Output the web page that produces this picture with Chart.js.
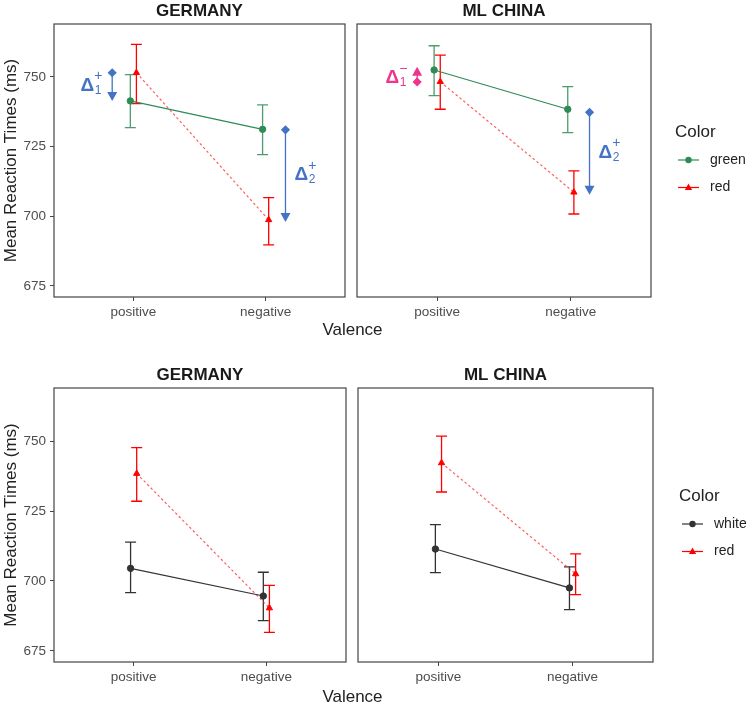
<!DOCTYPE html>
<html>
<head>
<meta charset="utf-8">
<script src="https://cdn.jsdelivr.net/npm/chart.js@4/dist/chart.umd.min.js"></script>
<style>
    html, body { margin: 0; padding: 0; background: #fff; overflow: hidden; }
    body { width: 749px; height: 705px; position: relative; font-family: 'Liberation Sans', Arial, sans-serif; }
    canvas { position: absolute; }
    .x-title { position: absolute; left: 0; width: 705px; text-align: center; font-size: 17px; line-height: 20px; color: #222; }
</style>
</head>
<body>
<canvas id="chart-top-de" style="left:0;top:0" width="350" height="337"></canvas>
<canvas id="chart-top-cn" style="left:352px;top:0" width="397" height="337"></canvas>
<canvas id="chart-bot-de" style="left:0;top:364px" width="351" height="338"></canvas>
<canvas id="chart-bot-cn" style="left:352px;top:364px" width="397" height="338"></canvas>
<div class="x-title" style="top:320px">Valence</div>
<div class="x-title" style="top:687px">Valence</div>
<script>
// categories and ticks
const valence = ['positive', 'negative'];
const yTicks = [675, 700, 725, 750];

// top row: green vs red
const topDeGreen = [741.4, 731.2];
const topDeGreenLow = [731.8, 722.1];
const topDeGreenHigh = [750.8, 740.0];
const topDeRed = [751.5, 698.7];
const topDeRedLow = [740.4, 689.7];
const topDeRedHigh = [761.7, 706.7];

const topCnGreen = [752.5, 738.4];
const topCnGreenLow = [743.3, 730.0];
const topCnGreenHigh = [761.2, 746.5];
const topCnRed = [748.3, 708.6];
const topCnRedLow = [738.4, 700.8];
const topCnRedHigh = [757.8, 716.3];

// bottom row: white vs red
const botDeWhite = [704.5, 694.6];
const botDeWhiteLow = [695.8, 685.8];
const botDeWhiteHigh = [713.9, 703.1];
const botDeRed = [738.4, 690.3];
const botDeRedLow = [728.5, 681.6];
const botDeRedHigh = [747.7, 698.4];

const botCnWhite = [711.4, 697.5];
const botCnWhiteLow = [703.0, 689.7];
const botCnWhiteHigh = [720.1, 705.0];
const botCnRed = [742.2, 702.5];
const botCnRedLow = [731.8, 695.1];
const botCnRedHigh = [751.8, 709.7];

// delta annotations (x position on valence axis, value range)
const topDeDeltas = [
    { at: 0.84, from: 751.5, to: 743.0, sub: '1', sign: '+', side: 'left', color: '#4472C4' },
    { at: 2.15, from: 731.0, to: 699.5, sub: '2', sign: '+', side: 'right', color: '#4472C4' },
];
const topCnDeltas = [
    { at: 0.85, from: 748.2, to: 752.0, sub: '1', sign: '\u2212', side: 'left', color: '#F0348E' },
    { at: 2.14, from: 737.3, to: 709.3, sub: '2', sign: '+', side: 'right', color: '#4472C4' },
];

const DODGE = 0.023;
const FONT = "'Liberation Sans', Arial, sans-serif";
Chart.defaults.font.family = FONT;

const GREEN = '#2E8B57';
const RED = '#FF0000';
const DARK = '#333333';

function series(label, values, low, high, color, lineColor, shape, dash, shift, errColor) {
    return {
        label,
        data: values.map((v, i) => ({ x: i + 1 + shift, y: v })),
        errLow: low,
        errHigh: high,
        errColor: errColor,
        borderColor: lineColor,
        backgroundColor: color,
        pointBackgroundColor: color,
        pointBorderColor: color,
        pointStyle: shape,
        pointRadius: shape === 'triangle' ? 3.6 : 3.2,
        pointBorderWidth: 1,
        borderWidth: 1.2,
        borderDash: dash,
        markerColor: color,
    };
}

function drawShape(ctx, shape, x, y, r, color) {
    ctx.fillStyle = color;
    ctx.beginPath();
    if (shape === 'triangle') {
        ctx.moveTo(x, y - r * 1.1);
        ctx.lineTo(x + r, y + r * 0.7);
        ctx.lineTo(x - r, y + r * 0.7);
        ctx.closePath();
    } else {
        ctx.arc(x, y, r, 0, Math.PI * 2);
    }
    ctx.fill();
}

const panelPlugin = {
    id: 'panel',
    beforeDatasetsDraw(chart) {
        const ctx = chart.ctx;
        const xs = chart.scales.x;
        const ys = chart.scales.y;
        chart.data.datasets.forEach((ds) => {
            ctx.save();
            ctx.strokeStyle = ds.errColor;
            ctx.lineWidth = 1.3;
            ds.data.forEach((pt, i) => {
                const px = xs.getPixelForValue(pt.x);
                const lo = ys.getPixelForValue(ds.errLow[i]);
                const hi = ys.getPixelForValue(ds.errHigh[i]);
                ctx.beginPath();
                ctx.moveTo(px, lo);
                ctx.lineTo(px, hi);
                ctx.moveTo(px - 5.5, lo);
                ctx.lineTo(px + 5.5, lo);
                ctx.moveTo(px - 5.5, hi);
                ctx.lineTo(px + 5.5, hi);
                ctx.stroke();
            });
            ctx.restore();
        });
    },
    afterDraw(chart, args, opts) {
        const ctx = chart.ctx;
        const a = chart.chartArea;
        const xs = chart.scales.x;
        const ys = chart.scales.y;

        ctx.save();
        ctx.strokeStyle = '#444';
        ctx.lineWidth = 1.2;
        ctx.strokeRect(a.left, a.top, a.right - a.left, a.bottom - a.top);
        ctx.restore();

        (opts.deltas || []).forEach((d) => {
            const px = xs.getPixelForValue(d.at);
            const y0 = ys.getPixelForValue(d.from);
            const y1 = ys.getPixelForValue(d.to);
            const dir = y1 > y0 ? 1 : -1;
            ctx.save();
            ctx.strokeStyle = d.color;
            ctx.fillStyle = d.color;
            ctx.lineWidth = 1.3;
            ctx.beginPath();
            ctx.moveTo(px, y0);
            ctx.lineTo(px, y1);
            ctx.stroke();
            // diamond at start
            ctx.beginPath();
            ctx.moveTo(px, y0 - 4.6);
            ctx.lineTo(px + 4.6, y0);
            ctx.lineTo(px, y0 + 4.6);
            ctx.lineTo(px - 4.6, y0);
            ctx.closePath();
            ctx.fill();
            // arrow head at end
            ctx.beginPath();
            ctx.moveTo(px, y1 + dir * 4.5);
            ctx.lineTo(px + 5, y1 - dir * 4.5);
            ctx.lineTo(px - 5, y1 - dir * 4.5);
            ctx.closePath();
            ctx.fill();

            // label: Delta with subscript and superscript
            const mid = (y0 + y1) / 2;
            ctx.font = 'bold 19px ' + FONT;
            const wd = ctx.measureText('\u0394').width;
            const startX = d.side === 'left' ? px - 10 - 8 - wd : px + 9;
            ctx.textBaseline = 'middle';
            ctx.textAlign = 'left';
            ctx.fillText('\u0394', startX, mid + 1);
            ctx.font = '12px ' + FONT;
            ctx.fillText(d.sub, startX + wd + 0.5, mid + 6);
            ctx.font = '14px ' + FONT;
            ctx.fillText(d.sign, startX + wd, mid - 8);
            ctx.restore();
        });

        if (opts.legend) {
            const L = opts.legend;
            ctx.save();
            ctx.fillStyle = '#222';
            ctx.font = '17px ' + FONT;
            ctx.textBaseline = 'middle';
            ctx.textAlign = 'left';
            ctx.fillText(L.title, L.x, L.y);
            chart.data.datasets.forEach((ds, i) => {
                const ry = L.y + 28 + i * 27.5;
                ctx.strokeStyle = ds.markerColor;
                ctx.lineWidth = 1.2;
                ctx.beginPath();
                ctx.moveTo(L.x + 3, ry);
                ctx.lineTo(L.x + 24, ry);
                ctx.stroke();
                drawShape(ctx, ds.pointStyle, L.x + 13.5, ry, ds.pointStyle === 'triangle' ? 3.6 : 3.2, ds.markerColor);
                ctx.fillStyle = '#222';
                ctx.font = '14px ' + FONT;
                ctx.fillText(ds.label, L.x + 35, ry);
            });
            ctx.restore();
        }
    },
};

function makeChart(id, title, datasets, showY, pad, deltas, legend) {
    const ctx = document.getElementById(id).getContext('2d');
    return new Chart(ctx, {
        type: 'line',
        data: { datasets },
        plugins: [panelPlugin],
        options: {
            responsive: false,
            animation: false,
            layout: { padding: pad },
            scales: {
                x: {
                    type: 'linear',
                    min: 0.4,
                    max: 2.6,
                    afterBuildTicks: (s) => { s.ticks = valence.map((v, i) => ({ value: i + 1 })); },
                    afterFit: (s) => { s.height = 40; },
                    ticks: {
                        callback: (v) => valence[v - 1],
                        color: '#4d4d4d',
                        font: { size: 13.5 },
                        padding: 3,
                        maxRotation: 0,
                        autoSkip: false,
                    },
                    grid: { drawOnChartArea: false, drawTicks: true, tickLength: 4, color: '#444', lineWidth: 1 },
                    border: { display: false },
                },
                y: {
                    type: 'linear',
                    min: 671,
                    max: 769,
                    display: showY,
                    afterBuildTicks: (s) => { s.ticks = yTicks.map((v) => ({ value: v })); },
                    afterFit: (s) => { s.width = showY ? 54 : 0; },
                    ticks: { color: '#4d4d4d', font: { size: 13.5 }, padding: 4 },
                    grid: { drawOnChartArea: false, drawTicks: true, tickLength: 4, color: '#444', lineWidth: 1 },
                    border: { display: false },
                    title: {
                        display: true,
                        text: 'Mean Reaction Times (ms)',
                        color: '#222',
                        font: { size: 17 },
                        padding: { top: 1, bottom: 0 },
                    },
                },
            },
            plugins: {
                legend: { display: false },
                tooltip: { enabled: false },
                title: {
                    display: true,
                    text: title,
                    fullSize: false,
                    color: '#1a1a1a',
                    font: { size: 17, weight: 'bold' },
                    padding: { top: 1, bottom: 2.6 },
                },
                panel: { deltas, legend },
            },
        },
    });
}

makeChart('chart-top-de', 'GERMANY', [
    series('green', topDeGreen, topDeGreenLow, topDeGreenHigh, GREEN, GREEN, 'circle', [], -DODGE, 'rgba(46,139,87,0.85)'),
    series('red', topDeRed, topDeRedLow, topDeRedHigh, RED, 'rgba(255,40,40,0.75)', 'triangle', [2.5, 2.5], DODGE, RED),
], true, { left: 0, right: 2, top: 0, bottom: 0 }, topDeDeltas, null);

makeChart('chart-top-cn', 'ML CHINA', [
    series('green', topCnGreen, topCnGreenLow, topCnGreenHigh, GREEN, GREEN, 'circle', [], -DODGE, 'rgba(46,139,87,0.85)'),
    series('red', topCnRed, topCnRedLow, topCnRedHigh, RED, 'rgba(255,40,40,0.75)', 'triangle', [2.5, 2.5], DODGE, RED),
], false, { left: 4, right: 98, top: 0, bottom: 0 }, topCnDeltas, { x: 323, y: 132, title: 'Color' });

makeChart('chart-bot-de', 'GERMANY', [
    series('white', botDeWhite, botDeWhiteLow, botDeWhiteHigh, DARK, DARK, 'circle', [], -DODGE, DARK),
    series('red', botDeRed, botDeRedLow, botDeRedHigh, RED, 'rgba(255,40,40,0.75)', 'triangle', [2.5, 2.5], DODGE, RED),
], true, { left: 0, right: 2, top: 0, bottom: 0 }, [], null);

makeChart('chart-bot-cn', 'ML CHINA', [
    series('white', botCnWhite, botCnWhiteLow, botCnWhiteHigh, DARK, DARK, 'circle', [], -DODGE, DARK),
    series('red', botCnRed, botCnRedLow, botCnRedHigh, RED, 'rgba(255,40,40,0.75)', 'triangle', [2.5, 2.5], DODGE, RED),
], false, { left: 6, right: 96, top: 0, bottom: 0 }, [], { x: 327, y: 132, title: 'Color' });
</script>
</body>
</html>
